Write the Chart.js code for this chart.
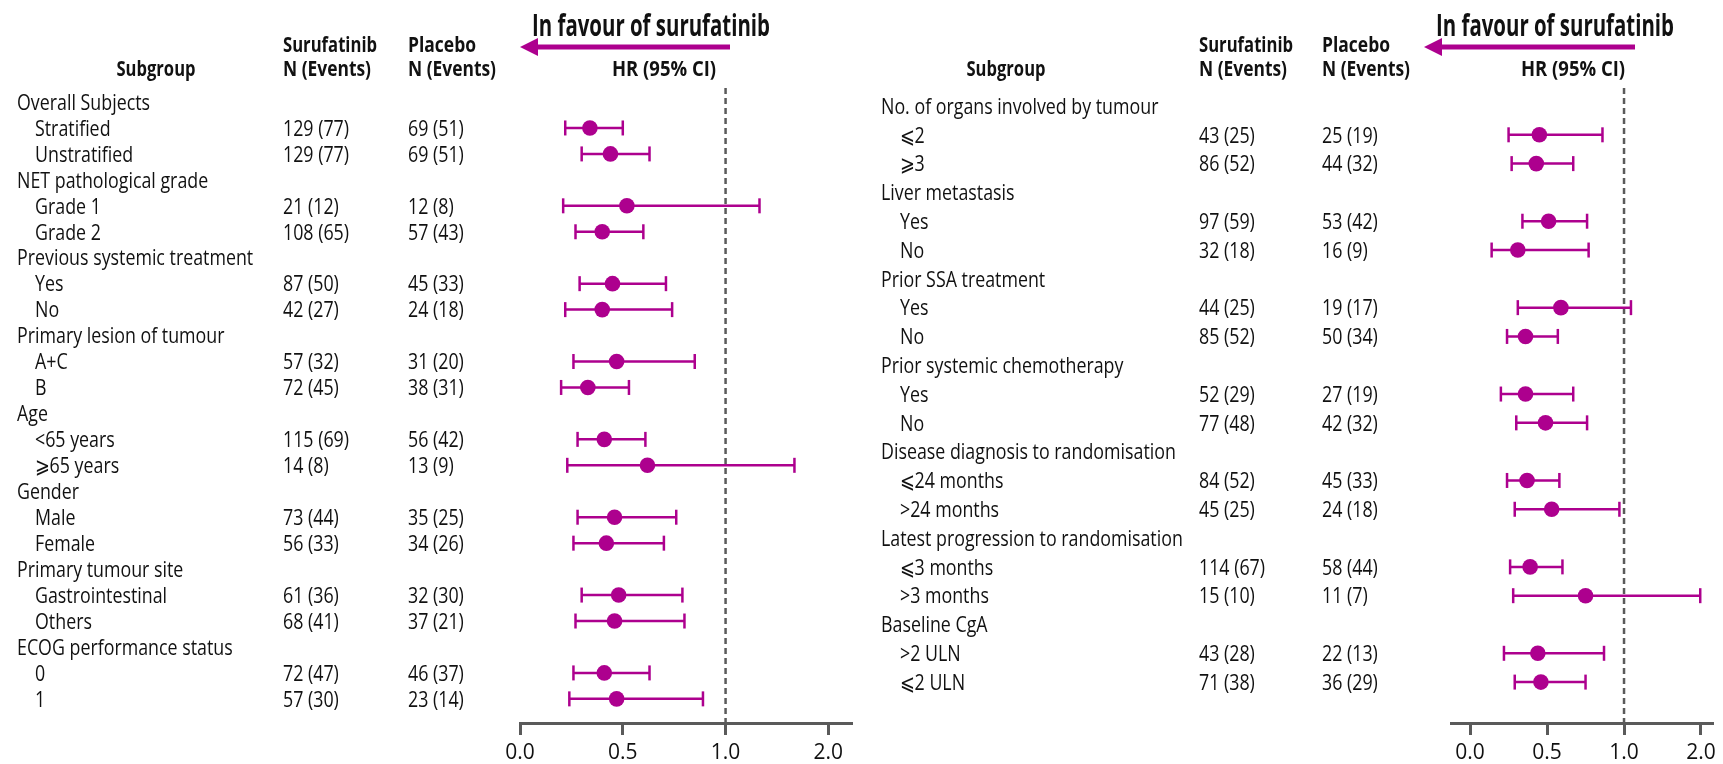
<!DOCTYPE html>
<html>
<head>
<meta charset="utf-8">
<script src="https://cdn.jsdelivr.net/npm/chart.js@4.4.1/dist/chart.umd.min.js"></script>
<style>
  html, body { margin: 0; padding: 0; background: #ffffff; }
  #wrap { position: relative; width: 1723px; height: 764px; overflow: hidden; }
  #wrap canvas { position: absolute; top: 0; }
</style>
</head>
<body>
<div id="wrap">
  <canvas id="leftPanel" width="862" height="764" style="left:0px"></canvas>
  <canvas id="rightPanel" width="861" height="764" style="left:862px"></canvas>
</div>
<script>
// ---------- Left panel: subgroups, counts, hazard ratios ----------
const leftSubgroups = [
  'Overall Subjects', 'Stratified', 'Unstratified',
  'NET pathological grade', 'Grade 1', 'Grade 2',
  'Previous systemic treatment', 'Yes', 'No',
  'Primary lesion of tumour', 'A+C', 'B',
  'Age', '<65 years', '\u2A7E65 years',
  'Gender', 'Male', 'Female',
  'Primary tumour site', 'Gastrointestinal', 'Others',
  'ECOG performance status', '0', '1'
];
const leftSurufatinib = [
  null, '129 (77)', '129 (77)',
  null, '21 (12)', '108 (65)',
  null, '87 (50)', '42 (27)',
  null, '57 (32)', '72 (45)',
  null, '115 (69)', '14 (8)',
  null, '73 (44)', '56 (33)',
  null, '61 (36)', '68 (41)',
  null, '72 (47)', '57 (30)'
];
const leftPlacebo = [
  null, '69 (51)', '69 (51)',
  null, '12 (8)', '57 (43)',
  null, '45 (33)', '24 (18)',
  null, '31 (20)', '38 (31)',
  null, '56 (42)', '13 (9)',
  null, '35 (25)', '34 (26)',
  null, '32 (30)', '37 (21)',
  null, '46 (37)', '23 (14)'
];
const leftHR    = [null, 0.34, 0.44, null, 0.52, 0.40, null, 0.45, 0.40, null, 0.47, 0.33, null, 0.41, 0.62, null, 0.46, 0.42, null, 0.48, 0.46, null, 0.41, 0.47];
const leftLower = [null, 0.22, 0.30, null, 0.21, 0.27, null, 0.29, 0.22, null, 0.26, 0.20, null, 0.28, 0.23, null, 0.28, 0.26, null, 0.30, 0.27, null, 0.26, 0.24];
const leftUpper = [null, 0.50, 0.63, null, 1.33, 0.60, null, 0.71, 0.74, null, 0.85, 0.53, null, 0.61, 1.67, null, 0.76, 0.70, null, 0.79, 0.80, null, 0.63, 0.89];

// ---------- Right panel: subgroups, counts, hazard ratios ----------
const rightSubgroups = [
  'No. of organs involved by tumour', '\u2A7D2', '\u2A7E3',
  'Liver metastasis', 'Yes', 'No',
  'Prior SSA treatment', 'Yes', 'No',
  'Prior systemic chemotherapy', 'Yes', 'No',
  'Disease diagnosis to randomisation', '\u2A7D24 months', '>24 months',
  'Latest progression to randomisation', '\u2A7D3 months', '>3 months',
  'Baseline CgA', '>2 ULN', '\u2A7D2 ULN'
];
const rightSurufatinib = [
  null, '43 (25)', '86 (52)',
  null, '97 (59)', '32 (18)',
  null, '44 (25)', '85 (52)',
  null, '52 (29)', '77 (48)',
  null, '84 (52)', '45 (25)',
  null, '114 (67)', '15 (10)',
  null, '43 (28)', '71 (38)'
];
const rightPlacebo = [
  null, '25 (19)', '44 (32)',
  null, '53 (42)', '16 (9)',
  null, '19 (17)', '50 (34)',
  null, '27 (19)', '42 (32)',
  null, '45 (33)', '24 (18)',
  null, '58 (44)', '11 (7)',
  null, '22 (13)', '36 (29)'
];
const rightHR    = [null, 0.45, 0.43, null, 0.51, 0.31, null, 0.59, 0.36, null, 0.36, 0.49, null, 0.37, 0.53, null, 0.39, 0.75, null, 0.44, 0.46];
const rightLower = [null, 0.25, 0.27, null, 0.34, 0.14, null, 0.31, 0.24, null, 0.20, 0.30, null, 0.24, 0.29, null, 0.26, 0.28, null, 0.22, 0.29];
const rightUpper = [null, 0.86, 0.67, null, 0.76, 0.77, null, 1.09, 0.57, null, 0.67, 0.76, null, 0.58, 0.97, null, 0.60, 1.99, null, 0.87, 0.75];

// ---------- Axis ----------
const hrTickValues = [0, 0.5, 1, 2];
const noEffectHR = 1;

// ---------- Styling ----------
const FONT = '"Open Sans", "Noto Sans", "Liberation Sans", sans-serif';
const MAGENTA = '#AD008E';
const INK = '#111111';
const AXIS_GREY = '#5a5a5a';

// Hazard-ratio axis: linear up to 1, the stretch from 1 to 2 drawn at half scale.
const squash = v => (v <= 1 ? v : 1 + (v - 1) / 2);
const unsquash = t => (t <= 1 ? t : 1 + (t - 1) * 2);
class HazardRatioScale extends Chart.LinearScale {
  getPixelForValue(value) {
    if (value === null || value === undefined || Number.isNaN(+value)) return NaN;
    const a = squash(this.min), b = squash(this.max);
    return this.getPixelForDecimal((squash(+value) - a) / (b - a));
  }
  getValueForPixel(pixel) {
    const a = squash(this.min), b = squash(this.max);
    return unsquash(a + this.getDecimalForPixel(pixel) * (b - a));
  }
}
HazardRatioScale.id = 'hazardRatio';
HazardRatioScale.defaults = {};
Chart.register(HazardRatioScale);

// Condensed text: the face is squeezed horizontally so a string spans a set width.
function textWidth(ctx, font, text) {
  ctx.save();
  ctx.font = font;
  const w = ctx.measureText(text).width;
  ctx.restore();
  return w;
}
function condensedText(ctx, text, x, y, sx, align) {
  ctx.save();
  ctx.translate(x, y);
  ctx.scale(sx, 1);
  ctx.textAlign = align;
  ctx.fillText(text, 0, 0);
  ctx.restore();
}
function fittedText(ctx, text, x, y, width, align) {
  const w = ctx.measureText(text).width;
  condensedText(ctx, text, x, y, w > 0 ? width / w : 1, align);
}

const BODY_FONT = '22px ' + FONT;
const HEAD_FONT = 'bold 22px ' + FONT;
const BANNER_FONT = 'bold 30px ' + FONT;
const TEXT_NUDGE = 1.5;

function tablePlugin(panel, rows) {
  const off = panel.canvasLeft;
  return {
    id: 'forestTable',
    beforeDatasetsDraw(chart) {
      const { ctx, chartArea } = chart;
      const x = chart.scales.x.getPixelForValue(noEffectHR);
      ctx.save();
      ctx.strokeStyle = AXIS_GREY;
      ctx.lineWidth = 2.5;
      ctx.setLineDash([6, 4]);
      ctx.beginPath();
      ctx.moveTo(x, chartArea.top);
      ctx.lineTo(x, chartArea.bottom);
      ctx.stroke();
      ctx.restore();
    },
    afterDraw(chart) {
      const { ctx } = chart;
      const yScale = chart.scales.y;
      const bodySx = Math.min(1, 133 / textWidth(ctx, BODY_FONT, 'Overall Subjects'));

      ctx.save();
      ctx.fillStyle = INK;

      // column headings
      ctx.textBaseline = 'middle';
      ctx.font = HEAD_FONT;
      const h1 = 44 + TEXT_NUDGE, h2 = 68 + TEXT_NUDGE;
      fittedText(ctx, 'Subgroup', panel.subgroupHeadX - off, h2, 79, 'center');
      fittedText(ctx, 'HR (95% CI)', panel.hrHeadX - off, h2, 104, 'center');
      fittedText(ctx, 'Surufatinib', panel.suruX - off, h1, 94, 'left');
      fittedText(ctx, 'N (Events)', panel.suruX - off, h2, 88, 'left');
      fittedText(ctx, 'Placebo', panel.placeboX - off, h1, 68, 'left');
      fittedText(ctx, 'N (Events)', panel.placeboX - off, h2, 88, 'left');

      ctx.textBaseline = 'alphabetic';
      ctx.font = BANNER_FONT;
      fittedText(ctx, 'In favour of surufatinib', panel.favourX - off, 36, 238, 'left');

      // arrow pointing towards lower hazard
      const ay = 47, tip = panel.arrowTipX - off, tail = panel.arrowTailX - off;
      ctx.strokeStyle = MAGENTA;
      ctx.fillStyle = MAGENTA;
      ctx.lineWidth = 5;
      ctx.beginPath();
      ctx.moveTo(tail, ay);
      ctx.lineTo(tip + 14, ay);
      ctx.stroke();
      ctx.beginPath();
      ctx.moveTo(tip, ay);
      ctx.lineTo(tip + 18, ay - 9);
      ctx.lineTo(tip + 18, ay + 9);
      ctx.closePath();
      ctx.fill();

      // table rows
      ctx.fillStyle = INK;
      ctx.textBaseline = 'middle';
      ctx.font = BODY_FONT;
      rows.labels.forEach((label, i) => {
        const y = yScale.getPixelForValue(i) + TEXT_NUDGE;
        const isHeading = rows.hr[i] === null;
        condensedText(ctx, label, (isHeading ? panel.subgroupX : panel.indentX) - off, y, bodySx, 'left');
        if (!isHeading) {
          condensedText(ctx, rows.suru[i], panel.suruX - off, y, bodySx, 'left');
          condensedText(ctx, rows.placebo[i], panel.placeboX - off, y, bodySx, 'left');
        }
      });
      ctx.restore();
    }
  };
}

function buildForest(canvasId, panel, rows) {
  const idx = rows.hr.map((v, i) => i).filter(i => rows.hr[i] !== null);
  const whiskers = idx.flatMap(i => [
    { x: rows.lo[i], y: i }, { x: rows.hi[i], y: i }, { x: null, y: i }
  ]);
  const caps = idx.flatMap(i => [{ x: rows.lo[i], y: i }, { x: rows.hi[i], y: i }]);
  const points = idx.map(i => ({ x: rows.hr[i], y: i }));

  return new Chart(document.getElementById(canvasId), {
    type: 'scatter',
    data: {
      datasets: [
        { label: 'HR', data: points, pointStyle: 'circle', pointRadius: 7.8,
          pointBackgroundColor: MAGENTA, pointBorderWidth: 0, order: 0 },
        { label: 'CI caps', data: caps, pointStyle: 'line', pointRotation: 90, pointRadius: 7.5,
          pointBorderColor: MAGENTA, pointBorderWidth: 2.5, order: 1 },
        { label: '95% CI', data: whiskers, showLine: true, spanGaps: false, pointRadius: 0,
          borderColor: MAGENTA, borderWidth: 2.5, order: 2 }
      ]
    },
    options: {
      responsive: false,
      devicePixelRatio: 1,
      animation: false,
      events: [],
      layout: { padding: panel.padding },
      plugins: { legend: { display: false }, tooltip: { enabled: false } },
      scales: {
        x: {
          type: 'hazardRatio',
          position: 'bottom',
          min: panel.xMin,
          max: panel.xMax,
          afterBuildTicks: axis => { axis.ticks = hrTickValues.map(v => ({ value: v })); },
          afterFit: axis => { axis.height = 41; },
          ticks: {
            callback: v => Number(v).toFixed(1),
            font: { family: FONT, size: 21 },
            color: INK,
            padding: 5,
            maxRotation: 0,
            autoSkip: false
          },
          grid: { drawOnChartArea: false, drawTicks: true, tickLength: 12,
                  tickWidth: 3, tickColor: AXIS_GREY },
          border: { display: true, color: AXIS_GREY, width: 3 }
        },
        y: {
          type: 'linear',
          reverse: true,
          display: false,
          min: panel.yMin,
          max: panel.yMax
        }
      }
    },
    plugins: [tablePlugin(panel, rows)]
  });
}

buildForest('leftPanel', {
  canvasLeft: 0,
  padding: { left: 520, right: 10, top: 88, bottom: 0 },
  xMin: 0, xMax: 2.23,
  yMin: -0.54, yMax: 23.93,
  subgroupX: 17, indentX: 35, suruX: 283, placeboX: 408,
  subgroupHeadX: 156, hrHeadX: 664, favourX: 532,
  arrowTipX: 520, arrowTailX: 730
}, { labels: leftSubgroups, suru: leftSurufatinib, placebo: leftPlacebo,
     hr: leftHR, lo: leftLower, hi: leftUpper });

buildForest('rightPanel', {
  canvasLeft: 862,
  padding: { left: 589, right: 4, top: 88, bottom: 0 },
  xMin: -0.124, xMax: 2.156,
  yMin: -0.625, yMax: 21.42,
  subgroupX: 881, indentX: 900, suruX: 1199, placeboX: 1322,
  subgroupHeadX: 1006, hrHeadX: 1573, favourX: 1436,
  arrowTipX: 1424, arrowTailX: 1635
}, { labels: rightSubgroups, suru: rightSurufatinib, placebo: rightPlacebo,
     hr: rightHR, lo: rightLower, hi: rightUpper });
</script>
</body>
</html>
